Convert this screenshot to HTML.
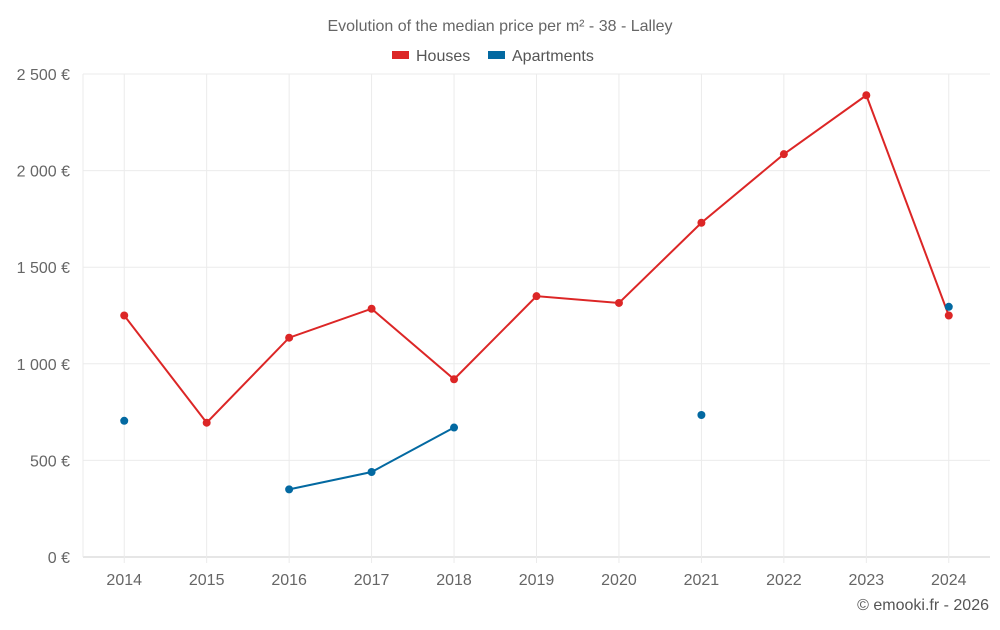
<!DOCTYPE html>
<html><head><meta charset="utf-8"><style>
body{margin:0;background:#fff;font-family:"Liberation Sans",Roboto,sans-serif;}
svg text{font-family:"Liberation Sans",sans-serif;}
</style></head><body>
<svg id="chart" width="1000" height="625">
<text x="500" y="31" text-anchor="middle" font-size="16" fill="#666">Evolution of the median price per m² - 38 - Lalley</text>
<g>
<g><rect x="392" y="51" width="17" height="8" fill="#dc2626"/><text x="416" y="61" font-size="16" fill="#555">Houses</text></g>
<g><rect x="488" y="51" width="17" height="8" fill="#0369a1"/><text x="512" y="61" font-size="16" fill="#555">Apartments</text></g>
</g>
<g id="grid"></g><g id="axes"></g><g id="series"></g>
<text x="989" y="610" text-anchor="end" font-size="16" fill="#555">© emooki.fr - 2026</text>
</svg>
<script>
const years=[2014,2015,2016,2017,2018,2019,2020,2021,2022,2023,2024];
const houses=[1250,695,1135,1285,920,1350,1315,1730,2085,2390,1250];
const apartments=[705,null,350,440,670,null,null,735,null,null,1295];
const yTicks=[0,500,1000,1500,2000,2500];
const yLabels=["0 €","500 €","1 000 €","1 500 €","2 000 €","2 500 €"];
const NS="http://www.w3.org/2000/svg";
const x0=83,x1=990,yb=557,yt=74,yMax=2500;
const step=(x1-x0)/years.length;
const xs=i=>x0+step*(i+0.5);
const ys=v=>yb-(v/yMax)*(yb-yt);
function mk(tag,attrs,parent){const e=document.createElementNS(NS,tag);for(const k in attrs)e.setAttribute(k,attrs[k]);parent.appendChild(e);return e;}
const grid=document.getElementById('grid'),axes=document.getElementById('axes'),ser=document.getElementById('series');
yTicks.forEach((t,i)=>{
 const l=mk('line',{x1:x0,x2:x1,y1:ys(t),y2:ys(t),stroke:i==0?'#ccc':'#ebebeb'},grid);
 
 
 const tx=mk('text',{x:70,y:ys(t)+6,'text-anchor':'end','font-size':16,fill:'#666'},axes);
 tx.textContent=yLabels[i];
 
 
});
mk('line',{x1:x0,x2:x0,y1:yt,y2:yb,stroke:'#ebebeb'},grid);
years.forEach((y,i)=>{
 const l=mk('line',{x1:xs(i),x2:xs(i),y1:yt,y2:yb+6,stroke:'#ebebeb'},grid);
 
 
 const tx=mk('text',{x:xs(i),y:585,'text-anchor':'middle','font-size':16,fill:'#666'},axes);
 tx.textContent=y;
 
 
});
function draw(data,color,name){
 let seg=[];const segs=[];
 data.forEach((v,i)=>{if(v==null){if(seg.length)segs.push(seg);seg=[];}else seg.push([xs(i),ys(v)]);});
 if(seg.length)segs.push(seg);
 segs.forEach(s=>{if(s.length>1){
  const p=mk('polyline',{points:s.map(q=>q.join(',')).join(' '),fill:'none',stroke:color,'stroke-width':2},ser);
  
  
 }});
 data.forEach((v,i)=>{if(v==null)return;
  const c=mk('circle',{cx:xs(i),cy:ys(v),r:4,fill:color},ser);
  
  
 });
}
draw(houses,'#dc2626','houses');
draw(apartments,'#0369a1','apartments');
</script>
</body></html>
